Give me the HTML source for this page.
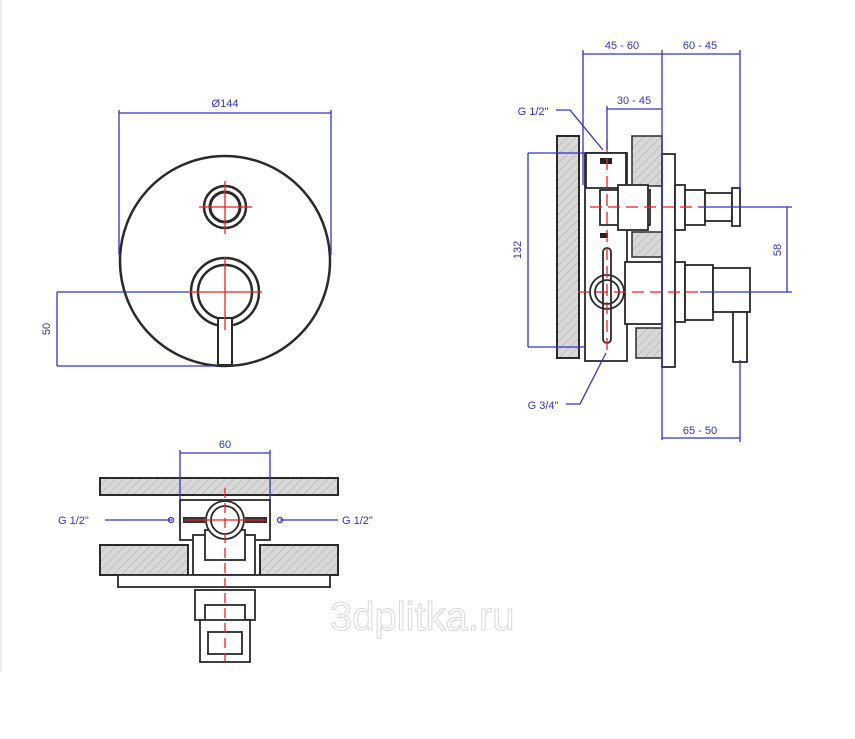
<!DOCTYPE html>
<html><head><meta charset="utf-8"><style>
html,body{margin:0;padding:0;background:#fff;}
svg{display:block;}
text{font-family:"Liberation Sans",sans-serif;}
</style></head><body>
<svg width="855" height="739" viewBox="0 0 855 739" xmlns="http://www.w3.org/2000/svg">
<defs>
<pattern id="h" width="6" height="6" patternUnits="userSpaceOnUse" patternTransform="rotate(45)">
<rect width="6" height="6" fill="#d8d8d8"/><line x1="0" y1="0" x2="0" y2="6" stroke="#aaa" stroke-width="1"/>
</pattern>
</defs>
<rect width="855" height="739" fill="#fff"/>
<line x1="1" y1="0" x2="1" y2="672" stroke="#ddd"/>

<!-- FRONT VIEW -->
<g fill="none" stroke="#2a2a2a" stroke-width="2.5">
<circle cx="225" cy="261" r="105"/>
<circle cx="225" cy="207" r="21"/>
<circle cx="225" cy="207" r="15" stroke-width="3"/>
<circle cx="225" cy="292" r="34"/>
<circle cx="225" cy="292" r="27"/>
</g>
<rect x="218" y="318" width="14" height="47" fill="#fff" stroke="#2a2a2a" stroke-width="2"/>
<g stroke="#e22" stroke-width="1.3">
<line x1="199" y1="207" x2="252" y2="207"/><line x1="225" y1="181" x2="225" y2="234"/>
<line x1="188" y1="292" x2="262" y2="292"/><line x1="225" y1="257" x2="225" y2="330"/>
</g>
<g stroke="#33c" stroke-width="1.3" fill="none">
<line x1="119" y1="113" x2="331" y2="113"/>
<line x1="119" y1="110" x2="119" y2="255"/><line x1="331" y1="110" x2="331" y2="255"/>
<line x1="57" y1="292" x2="188" y2="292"/><line x1="57" y1="366" x2="215" y2="366"/>
<line x1="57" y1="292" x2="57" y2="366"/>
</g>
<text x="225" y="107" font-size="11" fill="#33c" text-anchor="middle">Ø144</text>
<text x="0" y="0" font-size="11" fill="#33c" text-anchor="middle" transform="translate(50,329) rotate(-90)">50</text>

<!-- SIDE VIEW -->
<rect x="557" y="136" width="22" height="222" fill="url(#h)" stroke="#2a2a2a" stroke-width="2"/>
<rect x="632" y="136" width="30" height="50" fill="url(#h)" stroke="#2a2a2a" stroke-width="1.5"/>
<rect x="632" y="232" width="30" height="25" fill="url(#h)" stroke="#2a2a2a" stroke-width="1.5"/>
<rect x="636" y="328" width="26" height="30" fill="url(#h)" stroke="#2a2a2a" stroke-width="1.5"/>
<g fill="#fff" stroke="#2a2a2a" stroke-width="1.8">
<rect x="585" y="153" width="42" height="208"/>
<rect x="586" y="153" width="40" height="35"/>
<rect x="600" y="190" width="50" height="35"/>
<rect x="618" y="185" width="30" height="45"/>
<rect x="625" y="262" width="37" height="62"/>
<rect x="662" y="154" width="13" height="213"/>
<rect x="675" y="185" width="10" height="45"/>
<rect x="685" y="190" width="20" height="35"/>
<rect x="705" y="193" width="27" height="28"/>
<rect x="732" y="188" width="8" height="38"/>
<rect x="675" y="262" width="10" height="60"/>
<rect x="685" y="265" width="28" height="55"/>
<rect x="713" y="268" width="37" height="44"/>
<rect x="733" y="312" width="14" height="50"/>
<circle cx="607" cy="292" r="17"/>
<circle cx="607" cy="292" r="12"/>
<rect x="603" y="248" width="8" height="95" rx="4" fill="none"/>
</g>
<rect x="600" y="158" width="12" height="6" fill="#222"/>
<rect x="600" y="233" width="8" height="5" fill="#222"/>
<g stroke="#e22" stroke-width="1.3" stroke-dasharray="12,6">
<line x1="590" y1="207" x2="700" y2="207"/>
<line x1="578" y1="292" x2="700" y2="292"/>
<line x1="607" y1="140" x2="607" y2="355"/>
</g>
<g stroke="#33c" stroke-width="1.3" fill="none">
<line x1="583" y1="54" x2="740" y2="54"/>
<line x1="583" y1="50" x2="583" y2="185"/>
<line x1="662" y1="50" x2="662" y2="440"/>
<line x1="740" y1="50" x2="740" y2="190"/>
<line x1="607" y1="109" x2="662" y2="109"/><line x1="607" y1="106" x2="607" y2="150"/>
<line x1="528" y1="153" x2="585" y2="153"/><line x1="528" y1="347" x2="585" y2="347"/>
<line x1="528" y1="153" x2="528" y2="347"/>
<line x1="700" y1="207" x2="792" y2="207"/><line x1="700" y1="292" x2="792" y2="292"/>
<line x1="787" y1="207" x2="787" y2="292"/>
<line x1="662" y1="438" x2="740" y2="438"/><line x1="740" y1="360" x2="740" y2="442"/>
<polyline points="556,110 570,110 603,150"/>
<polyline points="566,404 580,404 606,353"/>
</g>
<g font-size="11" fill="#33c" text-anchor="middle">
<text x="622" y="49">45 - 60</text>
<text x="700" y="49">60 - 45</text>
<text x="634" y="104">30 - 45</text>
<text x="700" y="434">65 - 50</text>
<text x="533" y="115">G 1/2"</text>
<text x="543" y="409">G 3/4"</text>
<text transform="translate(521,250) rotate(-90)">132</text>
<text transform="translate(781,250) rotate(-90)">58</text>
</g>

<!-- BOTTOM VIEW -->
<rect x="100" y="478" width="238" height="17" fill="url(#h)" stroke="#2a2a2a" stroke-width="2"/>
<rect x="100" y="545" width="88" height="30" fill="url(#h)" stroke="#2a2a2a" stroke-width="2"/>
<rect x="260" y="545" width="78" height="30" fill="url(#h)" stroke="#2a2a2a" stroke-width="2"/>
<g fill="#fff" stroke="#2a2a2a" stroke-width="1.8">
<rect x="180" y="500" width="90" height="40"/>
<rect x="193" y="535" width="62" height="40"/>
<rect x="205" y="530" width="40" height="30"/>
<rect x="118" y="575" width="212" height="12"/>
<rect x="195" y="590" width="60" height="30"/>
<rect x="205" y="605" width="40" height="25"/>
<rect x="200" y="620" width="50" height="42"/>
<rect x="208" y="632" width="34" height="22"/>
<circle cx="225" cy="520" r="19"/>
<circle cx="225" cy="520" r="14"/>
</g>
<rect x="183" y="517" width="22" height="6" fill="#333"/>
<rect x="245" y="517" width="22" height="6" fill="#333"/>
<g stroke="#e22" stroke-width="1.3">
<line x1="225" y1="488" x2="225" y2="662" stroke-dasharray="10,5"/>
<line x1="185" y1="520" x2="265" y2="520"/>
</g>
<g stroke="#33c" stroke-width="1.3" fill="none">
<line x1="180" y1="453" x2="270" y2="453"/>
<line x1="180" y1="450" x2="180" y2="500"/><line x1="270" y1="450" x2="270" y2="500"/>
<line x1="105" y1="520" x2="172" y2="520"/><line x1="280" y1="520" x2="338" y2="520"/>
<circle cx="171" cy="520" r="2.5"/><circle cx="280" cy="520" r="2.5"/>
</g>
<g font-size="11" fill="#33c">
<text x="225" y="448" text-anchor="middle">60</text>
<text x="58" y="524">G 1/2"</text>
<text x="342" y="524">G 1/2"</text>
</g>
<text x="330" y="630" font-size="40" fill="none" stroke="#d8d8d8" stroke-width="1">3dplitka.ru</text>
</svg>
</body></html>
